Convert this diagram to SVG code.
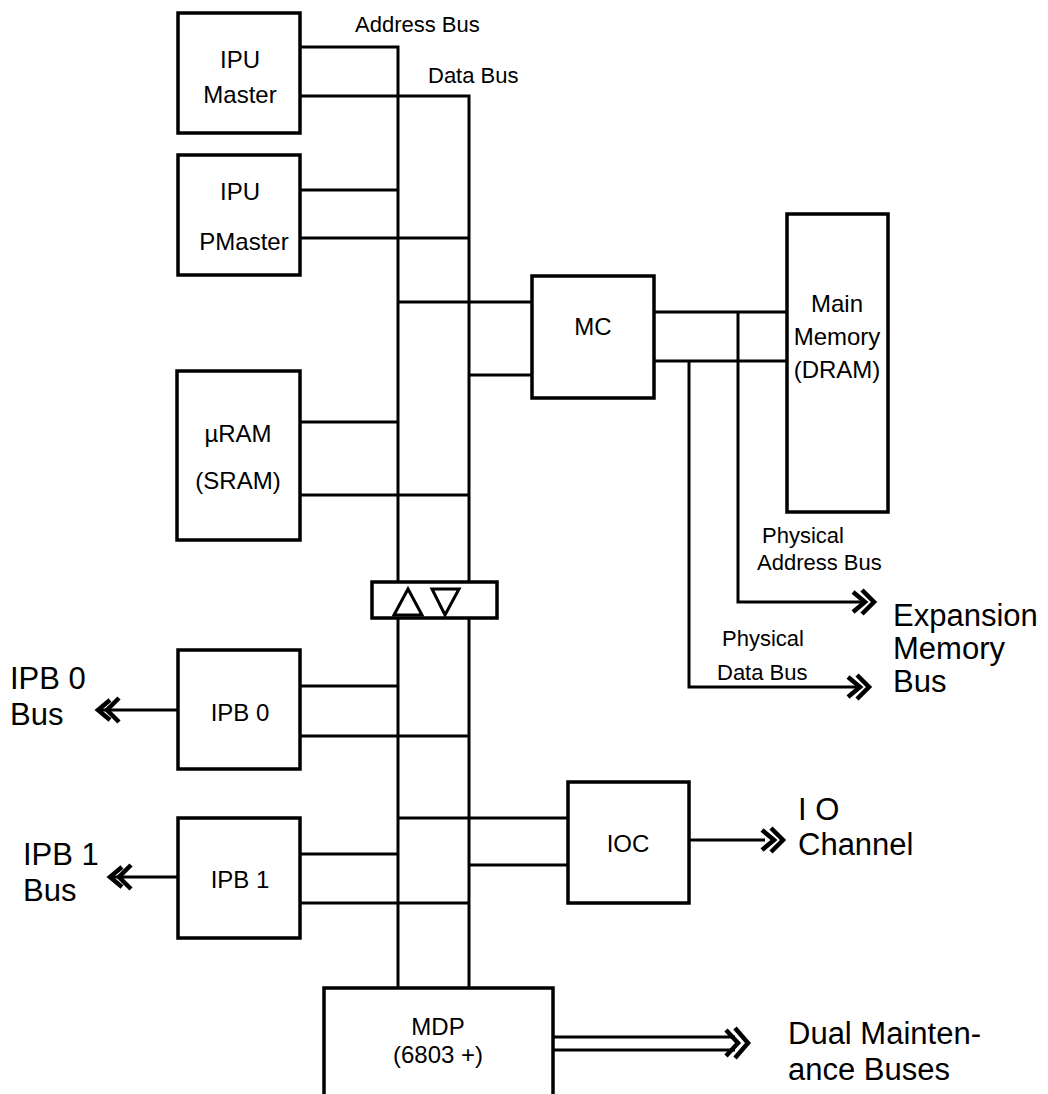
<svg xmlns="http://www.w3.org/2000/svg" width="1048" height="1094" viewBox="0 0 1048 1094">
<style>
.box{fill:#fff;stroke:#000;stroke-width:3.5}
.ln{fill:none;stroke:#000;stroke-width:3}
.hd{fill:none;stroke:#000;stroke-width:4.5;stroke-linejoin:miter}
text{font-family:"Liberation Sans",Arial,sans-serif;fill:#000}
.t{font-size:24px;text-anchor:middle}
.s{font-size:22px}
.b{font-size:31px}
</style>
<rect width="1048" height="1094" fill="#fff"/>
<g id="connectors">
<path class="ln" d="M300 47H398V582M398 618V988"/>
<path class="ln" d="M300 96H469V582M469 618V988"/>
<path class="ln" d="M300 190H398M300 238H469"/>
<path class="ln" d="M398 302H532M469 375H532"/>
<path class="ln" d="M300 422H398M300 495H469"/>
<path class="ln" d="M300 686H398M300 736H469"/>
<path class="ln" d="M300 854H398M300 903H469"/>
<path class="ln" d="M398 818H568M469 865H568"/>
<path class="ln" d="M654 312H787M654 361H787"/>
<path class="ln" d="M738 312V602H862"/>
<path class="ln" d="M689 361V687H857"/>
<path class="ln" d="M178 710H100"/>
<path class="ln" d="M178 877H112"/>
<path class="ln" d="M689 840H765"/>
<path class="ln" d="M553 1037H735M553 1050H735"/>
<path class="hd" d="M853 592L865 602L853 612M862 590L874 602L862 614"/>
<path class="hd" d="M848 677L860 687L848 697M857 675L869 687L857 699"/>
<path class="hd" d="M110 700L98 710L110 720M119 698L107 710L119 722"/>
<path class="hd" d="M122 867L110 877L122 887M131 865L119 877L131 889"/>
<path class="hd" d="M762 830L774 840L762 850M771 828L783 840L771 852"/>
<path class="hd" d="M726 1030L738 1043L726 1056M735 1028L748 1043L735 1058"/>
</g>
<g id="ipu-master"><rect class="box" x="178" y="13" width="122" height="120"/><text class="t" x="240" y="68">IPU</text><text class="t" x="240" y="103">Master</text></g>
<g id="ipu-pmaster"><rect class="box" x="178" y="155" width="122" height="120"/><text class="t" x="240" y="200">IPU</text><text class="t" x="244" y="250">PMaster</text></g>
<g id="uram"><rect class="box" x="177" y="371" width="123" height="169"/><text class="t" x="238" y="442">µRAM</text><text class="t" x="238" y="489">(SRAM)</text></g>
<g id="buffer"><rect class="box" x="372" y="582" width="125" height="36"/><path class="ln" d="M394 615L408 589L422 615Z"/><path class="ln" d="M432 589H459L445 615Z"/></g>
<g id="ipb0"><rect class="box" x="178" y="650" width="122" height="119"/><text class="t" x="240" y="721">IPB 0</text></g>
<g id="ipb1"><rect class="box" x="178" y="818" width="122" height="120"/><text class="t" x="240" y="888">IPB 1</text></g>
<g id="mc"><rect class="box" x="532" y="276" width="122" height="122"/><text class="t" x="593" y="335">MC</text></g>
<g id="main-memory"><rect class="box" x="787" y="214" width="101" height="298"/><text class="t" x="837" y="312">Main</text><text class="t" x="837" y="345">Memory</text><text class="t" x="837" y="378">(DRAM)</text></g>
<g id="ioc"><rect class="box" x="568" y="782" width="121" height="121"/><text class="t" x="628" y="852">IOC</text></g>
<g id="mdp"><rect class="box" x="324" y="988" width="229" height="110"/><text class="t" x="438" y="1035">MDP</text><text class="t" x="438" y="1063">(6803 +)</text></g>
<g id="labels">
<text class="s" x="355" y="32">Address Bus</text>
<text class="s" x="428" y="83">Data Bus</text>
<text class="s" x="762" y="543">Physical</text>
<text class="s" x="757" y="570">Address Bus</text>
<text class="s" x="722" y="646">Physical</text>
<text class="s" x="717" y="680">Data Bus</text>
<text class="b" x="893" y="626">Expansion</text>
<text class="b" x="893" y="659">Memory</text>
<text class="b" x="893" y="692">Bus</text>
<text class="b" x="10" y="689">IPB 0</text>
<text class="b" x="10" y="725">Bus</text>
<text class="b" x="23" y="865">IPB 1</text>
<text class="b" x="23" y="901">Bus</text>
<text class="b" x="798" y="820">I O</text>
<text class="b" x="798" y="855">Channel</text>
<text class="b" x="788" y="1044">Dual Mainten-</text>
<text class="b" x="788" y="1080">ance Buses</text>
</g>
</svg>
